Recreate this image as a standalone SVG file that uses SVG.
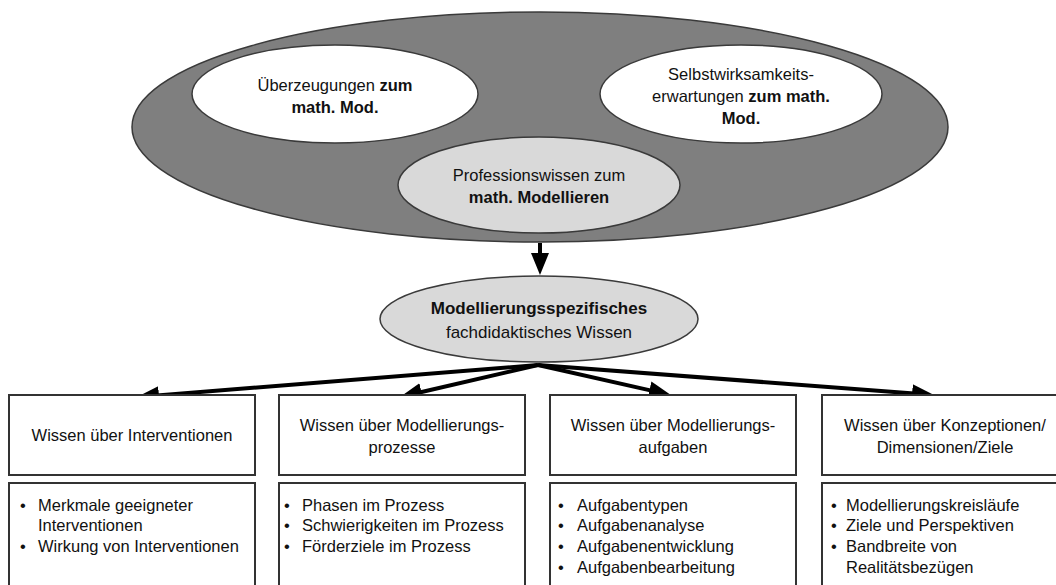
<svg xmlns="http://www.w3.org/2000/svg" width="1056" height="585" viewBox="0 0 1056 585">
  <style>
    text { font-family: "Liberation Sans", Arial, sans-serif; font-size: 16.5px; fill: #111111; text-anchor: middle; }
    .b { font-weight: bold; }
    .l { text-anchor: start; }
    .box { fill: #ffffff; stroke: #333333; stroke-width: 2; }
    .conn { stroke: #000000; stroke-width: 4; fill: none; }
  </style>
  <defs>
    <!-- arrowhead: the line ends 2px inside the base, the tip sits 20px further on -->
    <marker id="head" markerUnits="userSpaceOnUse" markerWidth="24" markerHeight="20" refX="2" refY="9" orient="auto">
      <path d="M0,0 L22,9 L0,18 Z" fill="#000000"/>
    </marker>
  </defs>

  <rect width="1056" height="585" fill="#ffffff"/>

  <!-- outer cluster: belief, self-efficacy and professional knowledge -->
  <g id="cluster">
    <ellipse cx="540" cy="127" rx="408" ry="115" fill="#7f7f7f" stroke="#3a3a3a" stroke-width="1.5"/>
  </g>

  <g id="ueberzeugungen">
    <ellipse cx="335" cy="94" rx="143" ry="49" fill="#ffffff" stroke="#3a3a3a" stroke-width="1.5"/>
    <text x="335" y="91">Überzeugungen <tspan class="b">zum</tspan></text>
    <text x="335" y="113" class="b">math. Mod.</text>
  </g>

  <g id="selbstwirksamkeit">
    <ellipse cx="741" cy="94" rx="141" ry="49" fill="#ffffff" stroke="#3a3a3a" stroke-width="1.5"/>
    <text x="741" y="80">Selbstwirksamkeits-</text>
    <text x="741" y="102">erwartungen <tspan class="b">zum math.</tspan></text>
    <text x="741" y="124" class="b">Mod.</text>
  </g>

  <g id="professionswissen">
    <ellipse cx="539" cy="185" rx="141" ry="48" fill="#d9d9d9" stroke="#3a3a3a" stroke-width="1.5"/>
    <text x="539" y="181">Professionswissen zum</text>
    <text x="539" y="203" class="b">math. Modellieren</text>
  </g>

  <g id="modellierungswissen">
    <ellipse cx="539" cy="319" rx="159" ry="43" fill="#d9d9d9" stroke="#3a3a3a" stroke-width="1.5"/>
    <text x="539" y="314" class="b" style="font-size:17px">Modellierungsspezifisches</text>
    <text x="539" y="338" style="font-size:17px">fachdidaktisches Wissen</text>
  </g>

  <!-- connectors -->
  <g id="connectors">
    <line class="conn" x1="540" y1="243" x2="540" y2="255" marker-end="url(#head)"/>
    <line class="conn" x1="538" y1="365" x2="156.9" y2="395.4" marker-end="url(#head)"/>
    <line class="conn" x1="538" y1="365" x2="419.5" y2="392.5" marker-end="url(#head)"/>
    <line class="conn" x1="538" y1="365" x2="651.4" y2="390.6" marker-end="url(#head)"/>
    <line class="conn" x1="538" y1="365" x2="914.1" y2="393.5" marker-end="url(#head)"/>
  </g>

  <g id="interventionen">
    <rect class="box" x="9" y="395" width="246" height="80"/>
    <text x="132" y="441">Wissen über Interventionen</text>
    <rect class="box" x="9" y="483" width="246" height="110"/>
    <text class="l" x="20" y="511">•</text>
    <text class="l" x="38" y="511">Merkmale geeigneter</text>
    <text class="l" x="38" y="531">Interventionen</text>
    <text class="l" x="20" y="552">•</text>
    <text class="l" x="38" y="552">Wirkung von Interventionen</text>
  </g>

  <g id="prozesse">
    <rect class="box" x="279" y="395" width="246" height="80"/>
    <text x="402" y="431">Wissen über Modellierungs-</text>
    <text x="402" y="453">prozesse</text>
    <rect class="box" x="279" y="483" width="246" height="110"/>
    <text class="l" x="284" y="511">•</text>
    <text class="l" x="302" y="511">Phasen im Prozess</text>
    <text class="l" x="284" y="531">•</text>
    <text class="l" x="302" y="531">Schwierigkeiten im Prozess</text>
    <text class="l" x="284" y="552">•</text>
    <text class="l" x="302" y="552">Förderziele im Prozess</text>
  </g>

  <g id="aufgaben">
    <rect class="box" x="550" y="395" width="246" height="80"/>
    <text x="673" y="431">Wissen über Modellierungs-</text>
    <text x="673" y="453">aufgaben</text>
    <rect class="box" x="550" y="483" width="246" height="110"/>
    <text class="l" x="558" y="511">•</text>
    <text class="l" x="577" y="511">Aufgabentypen</text>
    <text class="l" x="558" y="531">•</text>
    <text class="l" x="577" y="531">Aufgabenanalyse</text>
    <text class="l" x="558" y="552">•</text>
    <text class="l" x="577" y="552">Aufgabenentwicklung</text>
    <text class="l" x="558" y="573">•</text>
    <text class="l" x="577" y="573">Aufgabenbearbeitung</text>
  </g>

  <g id="konzeptionen">
    <rect class="box" x="822" y="395" width="246" height="80"/>
    <text x="945" y="431">Wissen über Konzeptionen/</text>
    <text x="945" y="453">Dimensionen/Ziele</text>
    <rect class="box" x="822" y="483" width="246" height="110"/>
    <text class="l" x="831" y="511">•</text>
    <text class="l" x="846" y="511">Modellierungskreisläufe</text>
    <text class="l" x="831" y="531">•</text>
    <text class="l" x="846" y="531">Ziele und Perspektiven</text>
    <text class="l" x="831" y="552">•</text>
    <text class="l" x="846" y="552">Bandbreite von</text>
    <text class="l" x="846" y="573">Realitätsbezügen</text>
  </g>
</svg>
